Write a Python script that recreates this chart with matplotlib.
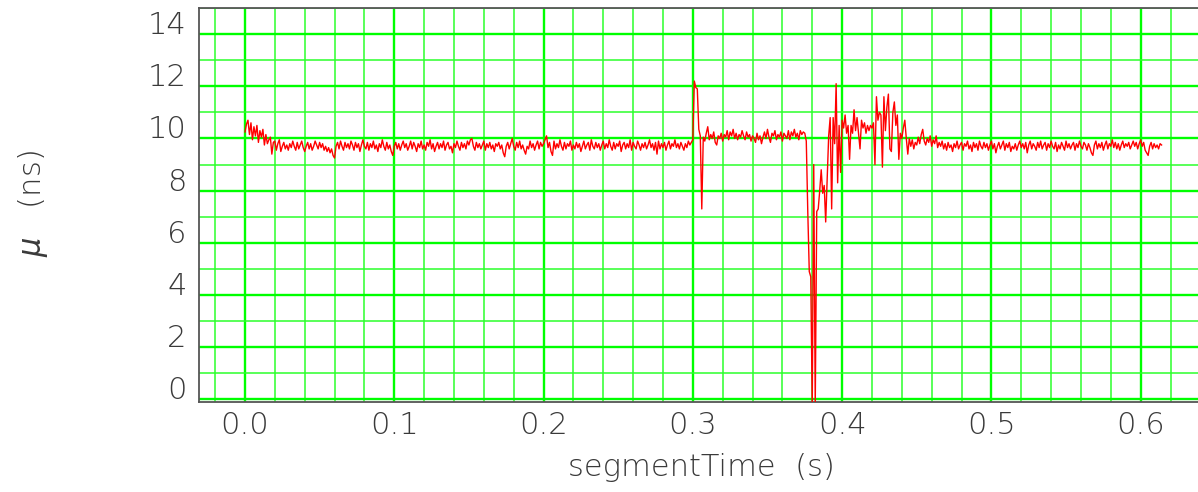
import numpy as np
import matplotlib
matplotlib.use("Agg")
import matplotlib.pyplot as plt
from matplotlib.ticker import FixedLocator, MultipleLocator

# ---------------- data (mu in ns, one sample per millisecond) ----------------
SAMPLE_DT = 0.001  # s

mu_start = [
    10.25, 10.55, 10.70, 10.15, 10.60, 9.95, 10.45, 10.10, 10.50, 9.85,
    10.30, 10.05, 10.35, 9.75, 10.15, 9.80, 9.95, 10.05, 9.40, 9.85,
    9.90, 9.55, 9.80, 9.95, 9.50, 9.70, 9.85, 9.60, 9.75, 9.55,
    9.80, 9.65, 9.90, 9.70, 9.55, 9.85, 9.60, 9.75, 9.90, 9.65,
    9.50, 9.70, 9.85, 9.60, 9.80, 9.55, 9.70, 9.90, 9.75, 9.60,
    9.85, 9.65, 9.80, 9.55, 9.70, 9.50, 9.65, 9.45, 9.60, 9.35,
    9.25, 9.70, 9.85, 9.60, 9.90, 9.70, 9.55, 9.85, 9.65, 9.80,
    9.60, 9.90, 9.75, 9.55, 9.85, 9.65, 9.80, 9.50, 9.75, 9.95,
    9.70, 9.60, 9.85, 9.55, 9.80, 9.65, 9.90, 9.60, 9.75, 9.50,
    9.80, 9.65, 9.95, 9.70, 9.55, 9.85, 9.60, 9.75, 9.50, 9.35,
    9.70, 9.85, 9.60, 9.80, 9.55, 9.75, 9.90, 9.65, 9.80, 9.55,
    9.70, 9.90, 9.60, 9.85, 9.70, 9.50, 9.80, 9.65, 9.90, 9.60,
    9.75, 9.55, 9.85, 9.70, 9.95, 9.60, 9.80, 9.50, 9.70, 9.85,
    9.60, 9.80, 9.65, 9.90, 9.55, 9.75, 9.85, 9.60, 9.70, 9.45,
    9.80, 9.65, 9.90, 9.70, 9.55, 9.85, 9.65, 9.80, 9.60, 9.90,
    9.75, 9.95, 10.00, 9.70, 9.55, 9.85, 9.65, 9.80, 9.60, 9.75,
    9.90, 9.55, 9.80, 9.65, 9.85, 9.60, 9.75, 9.50, 9.80, 9.70,
    9.85, 9.60, 9.75, 9.45, 9.30, 9.70, 9.85, 9.60, 9.80, 10.00,
    9.70, 9.55, 9.85, 9.65, 9.90, 9.60, 9.75, 9.55, 9.40, 9.70,
    9.60, 9.90, 9.65, 9.80, 9.55, 9.75, 9.90, 9.60, 9.85, 9.70,
    9.80, 9.95, 10.10, 9.65, 9.85, 9.50, 9.35, 9.90, 9.60, 9.80,
    9.65, 9.95, 9.70, 9.55, 9.85, 9.60, 9.80, 9.70, 9.90, 9.55,
    9.75, 9.60, 9.85, 9.65, 9.80, 9.50, 9.70, 9.90, 9.60, 9.75,
    9.85, 9.55, 9.95, 9.70, 9.60, 9.85, 9.65, 9.80, 9.55, 9.75,
    9.90, 9.60, 9.80, 9.65, 9.95, 9.70, 9.55, 9.85, 9.60, 9.80,
    9.70, 9.90, 9.50, 9.75, 9.85, 9.60, 9.80, 9.65, 9.95, 9.55,
    9.85, 9.70, 9.60, 9.90, 9.75, 9.55, 9.80, 9.65, 9.85, 9.60,
    9.75, 9.95, 9.65, 9.80, 9.55, 9.85, 9.40, 9.90, 9.60, 9.80,
    9.65, 9.85, 9.55, 9.75, 9.90, 9.60, 9.80, 9.70, 9.95, 9.65,
    9.80, 9.60, 9.85, 9.70, 9.55, 9.80, 9.65, 9.90, 9.75, 9.85,
]

mu_first_spike = [9.95, 12.20, 11.95, 11.90, 10.35, 10.10, 7.30, 10.05]

mu_plateau = [
    9.90, 10.20, 10.45, 9.95, 10.15, 10.00, 10.25, 9.85, 9.75, 10.10,
    10.00, 10.20, 9.90, 10.15, 10.05, 10.30, 9.95, 10.25, 10.10, 10.35,
    10.00, 10.20, 9.95, 10.15, 10.05, 10.30, 10.10, 9.95, 10.25, 10.05,
    10.15, 9.90, 10.10, 10.00, 9.85, 10.20, 9.95, 10.10, 9.80, 10.05,
    10.25, 10.00, 10.35, 10.05, 9.85, 10.20, 10.10, 10.30, 9.95, 10.15,
    10.05, 10.25, 9.90, 10.20, 10.10, 10.00, 10.30, 9.95, 10.25, 10.10,
    10.35, 10.05, 10.20, 9.95, 10.30, 10.15, 10.25, 10.20,
]

mu_dropout = [
    9.90, 7.20, 4.90, 4.70, -0.30, 9.00, -0.30, 7.20, 7.30, 8.00,
    8.80, 7.90, 8.20, 6.80, 8.50, 10.10, 10.80, 7.30, 10.80, 9.80,
    12.10, 8.30, 10.50, 8.70, 10.70, 10.40, 10.90, 10.20, 10.50, 9.20,
    10.50, 10.20, 11.10, 10.30, 10.80, 10.20, 9.60, 10.70, 10.40, 10.60,
    10.20, 10.50, 10.30, 10.50, 10.40, 10.60, 9.00, 11.60, 10.70, 11.00,
    10.90, 8.90, 11.60, 10.30, 11.20, 11.70, 9.60, 9.50, 11.00, 11.40,
    10.50, 10.90, 9.20, 10.20, 10.00, 10.40, 10.70, 10.00, 9.40, 10.00,
]

mu_tail = [
    9.70, 9.95, 9.60, 9.85, 9.75, 10.05, 9.80, 10.15, 10.35, 9.90,
    9.75, 10.00, 9.85, 10.10, 9.70, 9.95, 9.80, 10.10, 9.65, 9.85,
    9.70, 9.90, 9.60, 9.80, 9.55, 9.85, 9.65, 9.75, 9.50, 9.80,
    9.65, 9.90, 9.60, 9.75, 9.85, 9.55, 9.80, 9.70, 9.90, 9.60,
    9.75, 9.50, 9.85, 9.65, 9.80, 9.55, 9.90, 9.70, 9.60, 9.85,
    9.65, 9.80, 9.55, 9.75, 9.90, 9.60, 9.80, 9.45, 9.70, 9.85,
    9.60, 9.75, 9.90, 9.55, 9.80, 9.65, 9.85, 9.50, 9.70, 9.60,
    9.80, 9.55, 9.75, 9.90, 9.65, 9.80, 9.60, 9.85, 9.45, 9.75,
    9.90, 9.60, 9.80, 9.70, 9.55, 9.85, 9.65, 9.90, 9.60, 9.75,
    9.85, 9.55, 9.80, 9.65, 9.90, 9.70, 9.60, 9.85, 9.50, 9.75,
    9.60, 9.85, 9.70, 9.55, 9.90, 9.65, 9.80, 9.60, 9.75, 9.85,
    9.55, 9.80, 9.65, 9.90, 9.70, 9.60, 9.85, 9.75, 9.55, 9.80,
    9.65, 9.45, 9.35, 9.75, 9.90, 9.60, 9.80, 9.65, 9.85, 9.55,
    9.75, 9.90, 9.60, 9.80, 9.70, 9.95, 9.65, 9.85, 9.60, 9.80,
    9.55, 9.75, 9.90, 9.65, 9.80, 9.70, 9.85, 9.60, 9.75, 9.90,
    9.70, 9.85, 9.60, 9.80, 9.95, 9.70, 9.85, 9.55, 9.45, 9.35,
    9.70, 9.85, 9.60, 9.80, 9.65, 9.75, 9.60, 9.80, 9.75,
]

x_ticks = [0.0, 0.1, 0.2, 0.3, 0.4, 0.5, 0.6]
x_tick_labels = ["0.0", "0.1", "0.2", "0.3", "0.4", "0.5", "0.6"]
y_ticks = [0, 2, 4, 6, 8, 10, 12, 14]
y_tick_labels = ["0", "2", "4", "6", "8", "10", "12", "14"]

mu = np.array(mu_start + mu_first_spike + mu_plateau + mu_dropout + mu_tail)
seg_time = np.arange(len(mu)) * SAMPLE_DT

# ---------------- figure ----------------
FAMILY = ["DejaVu Sans"]
plt.rcParams["font.family"] = FAMILY
plt.rcParams["font.weight"] = "light"
plt.rcParams["mathtext.fontset"] = "custom"
plt.rcParams["mathtext.it"] = "DejaVu Sans:italic"
TXT = "#3a3a3a"

W, H = 1198, 492
fig = plt.figure(figsize=(W / 100, H / 100), dpi=100)
left_px, top_px, bottom_px = 199, 8, 401.5
ax = fig.add_axes([left_px / W, (H - bottom_px) / H, 1 - left_px / W,
                   (bottom_px - top_px) / H])

ax.plot(seg_time, mu, color="#ff0000", lw=1.0, zorder=3)

ax.set_xlim(-0.0308, 0.6384)
ax.set_ylim(-0.08, 15.0)

ax.xaxis.set_major_locator(FixedLocator(x_ticks))
ax.set_xticklabels(x_tick_labels)
ax.xaxis.set_minor_locator(MultipleLocator(0.02))
ax.yaxis.set_major_locator(FixedLocator(y_ticks))
ax.set_yticklabels(y_tick_labels)
ax.yaxis.set_minor_locator(MultipleLocator(1))

ax.set_axisbelow(True)
ax.grid(which="major", color="#00ff00", lw=1.7)
ax.grid(which="minor", color="#2bff2b", lw=1.1)

ax.tick_params(which="both", length=0)
ax.tick_params(axis="x", labelsize=22, pad=7, colors=TXT)
ax.tick_params(axis="y", labelsize=22, pad=9, colors=TXT)
for lab in ax.get_yticklabels():
    lab.set_verticalalignment("baseline")

for side in ("left", "top", "bottom"):
    ax.spines[side].set_color("#555555")
    ax.spines[side].set_linewidth(1.3)
ax.spines["right"].set_visible(False)

fig.text(701 / W, (H - 476) / H, "segmentTime  (s)", ha="center",
         va="baseline", fontsize=22, color=TXT)
fig.text(33 / W, (H - 204) / H, r"$\mu$   (ns)", rotation=90, ha="center",
         va="center", fontsize=22, color=TXT)

fig.savefig("out.png", dpi=100)
